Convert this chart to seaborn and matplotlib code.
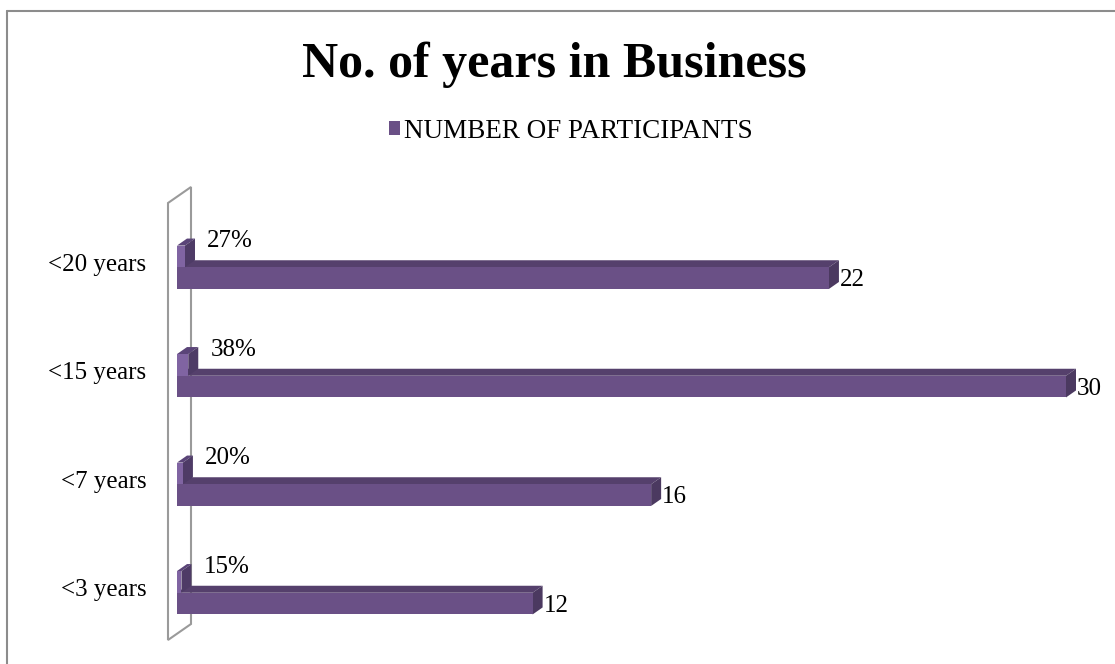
import matplotlib
matplotlib.use("Agg")
import matplotlib.pyplot as plt
import numpy as np
import pandas as pd
import seaborn as sns
from matplotlib.patches import Polygon, Patch
from matplotlib.lines import Line2D
from matplotlib.transforms import IdentityTransform, ScaledTranslation

# ---- data ----
categories = ["<20 years", "<15 years", "<7 years", "<3 years"]
participants = [22, 30, 16, 12]
share_pct = [27, 38, 20, 15]
series_names = ["SHARE", "NUMBER OF PARTICIPANTS"]

# ---- style ----
sns.set_theme(style="white")
plt.rcParams["font.family"] = ["Liberation Serif", "DejaVu Serif"]
plt.rcParams["text.color"] = "black"
plt.rcParams["ytick.color"] = "black"

W, H, DPI = 1115, 664, 100
fig = plt.figure(figsize=(W / DPI, H / DPI), dpi=DPI)
fig.patch.set_facecolor("white")

ax = fig.add_axes([177 / W, 17 / H, (1066 - 177) / W, (451 - 17) / H])

front_cols = {"SHARE": "#8064A2", "NUMBER OF PARTICIPANTS": "#6A5086"}
top_cols = {"SHARE": "#5A4478", "NUMBER OF PARTICIPANTS": "#55406C"}
side_cols = {"SHARE": "#4E3B66", "NUMBER OF PARTICIPANTS": "#4B3960"}

df = pd.DataFrame({
    "category": categories * 2,
    "value": [p / 100 for p in share_pct] + participants,
    "series": [series_names[0]] * len(categories) + [series_names[1]] * len(categories),
})

sns.barplot(data=df, y="category", x="value", hue="series",
            order=categories, hue_order=series_names, orient="h",
            width=0.4, palette=[front_cols[s] for s in series_names],
            saturation=1, legend=False, ax=ax, linewidth=0, edgecolor="none")

ax.set_xlim(0, 30)
ax.set_ylim(len(categories) - 0.5, -0.5)
for s in ax.spines.values():
    s.set_visible(False)
ax.set_xticks([])
ax.set_xlabel("")
ax.set_ylabel("")
ax.tick_params(axis="y", length=0, pad=22, labelsize=18, labelcolor="black")
shift_up = ScaledTranslation(0, 5 / DPI, fig.dpi_scale_trans)
for lab in ax.get_yticklabels():
    lab.set_transform(lab.get_transform() + shift_up)
    lab.set_fontsize(18)
    lab.set_color("black")

# depth of the 3D extrusion in pixels, converted to data units
DX, DY = 10, 7
px_per_x = ax.transData.transform((1, 0))[0] - ax.transData.transform((0, 0))[0]
px_per_y = abs(ax.transData.transform((0, 1))[1] - ax.transData.transform((0, 0))[1])
ddx, ddy = DX / px_per_x, DY / px_per_y

# classify bars: upper bar in each slot is the share series
bars = list(ax.patches)
share_bars, count_bars = [], []
for p in bars:
    yc = p.get_y() + p.get_height() / 2
    idx = int(round(yc))
    (share_bars if yc < idx else count_bars).append((idx, p))
share_bars.sort(key=lambda t: t[0])
count_bars.sort(key=lambda t: t[0])


def extrude(p, name, z):
    x0 = p.get_x()
    x1 = x0 + p.get_width()
    yt = p.get_y()
    yb = yt + p.get_height()
    top = Polygon([(x0, yt), (x1, yt), (x1 + ddx, yt - ddy), (x0 + ddx, yt - ddy)],
                  closed=True, facecolor=top_cols[name], edgecolor="none",
                  zorder=z, clip_on=False)
    side = Polygon([(x1, yb), (x1 + ddx, yb - ddy), (x1 + ddx, yt - ddy), (x1, yt)],
                   closed=True, facecolor=side_cols[name], edgecolor="none",
                   zorder=z, clip_on=False)
    ax.add_patch(top)
    ax.add_patch(side)
    p.set_zorder(z + 0.05)
    p.set_clip_on(False)


for _, p in count_bars:
    extrude(p, series_names[1], 2.0)
for _, p in share_bars:
    extrude(p, series_names[0], 2.2)

# back wall outline (drawn behind bars)
ox, oy_top = ax.transData.transform((0, -0.5))
_, oy_bot = ax.transData.transform((0, len(categories) - 0.5))
wall = Polygon([(ox - 9, oy_bot + 7), (ox - 9, oy_top + 10),
                (ox + 14, oy_top + 26), (ox + 14, oy_bot + 23)],
               closed=True, fill=False, edgecolor="#9A9A9A", linewidth=1.5,
               transform=IdentityTransform(), zorder=1, clip_on=False)
ax.add_artist(wall)

# value labels
pt = 72 / DPI
for (i, p), v in zip(share_bars, share_pct):
    ax.annotate(f"{v}%", xy=(p.get_x() + p.get_width(), p.get_y() + p.get_height() / 2),
                xytext=(22 * pt, 15 * pt), textcoords="offset points",
                ha="left", va="center", fontsize=18, color="black", zorder=5)
for (i, p), v in zip(count_bars, participants):
    ax.annotate(f"{v}", xy=(p.get_x() + p.get_width(), p.get_y() + p.get_height() / 2),
                xytext=(11 * pt, -2 * pt), textcoords="offset points",
                ha="left", va="center", fontsize=18, color="black", zorder=5)

# title and legend
fig.text(554 / W, 1 - 65 / H, "No. of years in Business", ha="center", va="center",
         fontsize=36, fontweight="bold", color="black")
handle = Patch(facecolor=front_cols[series_names[1]], edgecolor="none")
leg = fig.legend([handle], [series_names[1]], loc="center",
                 bbox_to_anchor=(571 / W, 1 - 131 / H), frameon=False,
                 fontsize=19.5, handlelength=0.42, handleheight=0.42,
                 handletextpad=0.15, labelcolor="black")

# chart frame
frame_col = "#8C8C8C"
fig.add_artist(Line2D([7 / W, 7 / W], [0, 1 - 11 / H], transform=fig.transFigure,
                      color=frame_col, linewidth=1.5))
fig.add_artist(Line2D([7 / W, 1], [1 - 11 / H, 1 - 11 / H], transform=fig.transFigure,
                      color=frame_col, linewidth=1.5))

fig.savefig("out.png", dpi=DPI, facecolor="white")
